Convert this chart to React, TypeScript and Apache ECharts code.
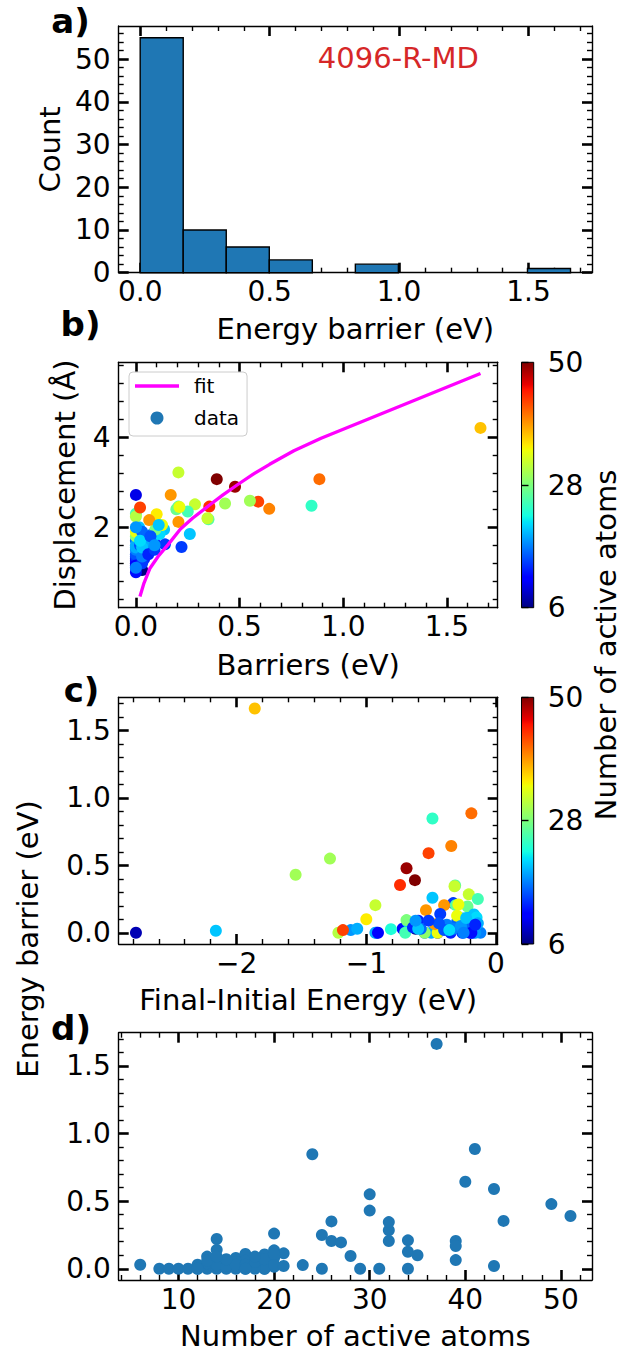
import { useEffect, useRef } from 'react';
import * as echarts from 'echarts';

const W = 633;
const H = 1351;
const FONT = '"DejaVu Sans", sans-serif';

// ---------- Panel a: histogram of energy barriers ----------
const histEdges = [0, 0.1662, 0.3324, 0.4986, 0.6648, 0.831, 0.9972, 1.1634, 1.3296, 1.4958, 1.662];
const histCounts = [55, 10, 6, 3, 0, 2, 0, 0, 0, 1];

// ---------- per-event data (panels b, c, d) ----------
const nAtoms = [
  37, 41, 24, 40, 43, 30, 49, 30, 51, 44, 26, 32, 20, 25, 14, 32, 26, 27, 34, 39, 39, 32,
  6, 8, 9, 10, 12, 12, 13, 13, 14, 14, 15, 15, 16, 16, 17, 17, 17, 18, 19, 19, 19, 20, 20, 20,
  21, 23, 25, 28, 29, 31, 34, 34, 35, 39, 43,
  19, 11, 13, 14, 15, 16, 16, 17, 18, 18, 19, 20, 20, 21, 12, 13, 15, 14, 17, 18,
];
const barriers = [
  1.662, 0.885, 0.847, 0.643, 0.59, 0.55, 0.478, 0.43, 0.39, 0.354, 0.35, 0.285, 0.26, 0.25, 0.22, 0.205, 0.205, 0.195, 0.21, 0.205, 0.168, 0.345,
  0.03, 0.0, 0.0, 0.0, 0.03, 0.0, 0.09, 0.0, 0.14, 0.0, 0.045, 0.0, 0.08, 0.0, 0.11, 0.06, 0.0, 0.02, 0.106, 0.03, 0.0, 0.136, 0.08, 0.015,
  0.114, 0.027, 0.0, 0.094, 0.0, 0.0, 0.126, 0.0, 0.1, 0.064, 0.02,
  0.0, 0.0, 0.04, 0.03, 0.02, 0.05, 0.03, 0.03, 0.0, 0.05, 0.07, 0.03, 0.11, 0.02, 0.0, 0.06, 0.07, 0.09, 0.0, 0.09,
];
const displacements = [
  4.21, 3.07, 2.48, 2.41, 2.57, 2.59, 2.9, 2.53, 3.07, 2.46, 2.18, 2.51, 1.85, 2.35, 1.56, 3.22, 2.46, 2.4, 2.45, 2.12, 2.72, 2.2,
  1.05, 1.2, 1.3, 2.72, 1.45, 1.25, 1.65, 1.1, 1.62, 1.35, 1.55, 1.4, 1.85, 1.7, 2.0, 1.75, 1.5, 1.9, 2.05, 1.8, 1.6, 1.95, 1.75, 2.0,
  1.85, 1.85, 2.3, 1.95, 1.8, 2.24, 2.05, 1.9, 2.29, 2.16, 2.44,
  1.55, 1.15, 1.3, 1.2, 1.6, 1.45, 1.9, 1.35, 2.0, 1.65, 1.7, 1.55, 2.05, 1.7, 1.0, 1.4, 1.8, 1.5, 1.1, 1.6,
];
const deltaE = [
  -1.86, -0.19, -0.49, -0.345, -0.52, -1.28, -0.69, -1.545, -0.625, -0.74, -0.315, -0.21, -0.49, -0.14, -0.33, -0.93, -0.31, -0.22, -0.29, -0.4, -0.54, -0.32,
  -0.62, -2.776, -0.45, -0.2, -0.72, -0.92, -0.6, -0.35, -0.43, -0.26, -0.66, -0.18, -0.3, -0.55, -0.21, -0.38, -0.12, -1.12, -0.26, -1.07, -0.5, -0.17, -0.68, -2.16,
  -0.15, -0.81, -0.7, -0.69, -0.55, -1.215, -0.3, -0.45, -1.0, -0.47, -1.18,
  -0.93, -0.91, -0.64, -0.28, -0.4, -0.24, -0.58, -0.33, -0.16, -0.27, -0.14, -0.6, -0.23, -0.36, -0.19, -0.16, -0.44, -0.52, -0.25, -0.62,
];

// power-law fit drawn in panel b
const fitBarrier = [0.0195, 0.039, 0.068, 0.107, 0.156, 0.215, 0.273, 0.357, 0.42, 0.488, 0.566, 0.645, 0.762, 0.893, 1.662];
const fitDisp = [0.46, 0.76, 1.09, 1.35, 1.62, 1.96, 2.2, 2.5, 2.72, 2.94, 3.18, 3.4, 3.7, 3.98, 5.42];

// ---------- axis ranges & tick labels ----------
const aXRange = [-0.083, 1.745];
const aYRange = [0, 57.75];
const bXRange = [-0.083, 1.745];
const bYRange = [0.212, 5.668];
const cXRange = [-2.909, 0.013];
const cYRange = [-0.083, 1.745];
const dXRange = [3.75, 53.25];
const dYRange = [-0.083, 1.745];

const aXTicks = [0, 0.5, 1.0, 1.5];
const aYTicks = [0, 10, 20, 30, 40, 50];
const bXTicks = [0, 0.5, 1.0, 1.5];
const bYTicks = [2, 4];
const cXTicks = [-2, -1, 0];
const cYTicks = [0, 0.5, 1.0, 1.5];
const dXTicks = [10, 20, 30, 40, 50];
const dYTicks = [0, 0.5, 1.0, 1.5];
const cbTicks = [6, 28, 50];
const cbRange = [6, 50];

// ---------- layout ----------
const gridRects = [
  { left: 118.7, top: 26, width: 473.3, height: 246.7 },
  { left: 118.7, top: 362.3, width: 379, height: 245.4 },
  { left: 118.7, top: 697.3, width: 379, height: 246.7 },
  { left: 118.7, top: 1032.7, width: 473.3, height: 247.3 },
];
const cbRects = [
  { left: 521.5, top: 362.3, width: 12.2, height: 245.4 },
  { left: 521.5, top: 697.3, width: 12.2, height: 246.7 },
];

function interp(t: number, xs: number[], ys: number[]) {
  if (t <= xs[0]) return ys[0];
  for (let i = 1; i < xs.length; i++) {
    if (t <= xs[i]) {
      const f = (t - xs[i - 1]) / (xs[i] - xs[i - 1]);
      return ys[i - 1] + f * (ys[i] - ys[i - 1]);
    }
  }
  return ys[ys.length - 1];
}
function jet(t: number) {
  const r = interp(t, [0, 0.35, 0.66, 0.89, 1], [0, 0, 1, 1, 0.5]);
  const g = interp(t, [0, 0.125, 0.375, 0.64, 0.91, 1], [0, 0, 1, 1, 0, 0]);
  const b = interp(t, [0, 0.11, 0.34, 0.65, 1], [0.5, 1, 1, 0, 0]);
  return `rgb(${Math.round(r * 255)},${Math.round(g * 255)},${Math.round(b * 255)})`;
}
const jetKnots = [0, 0.11, 0.125, 0.34, 0.35, 0.375, 0.64, 0.65, 0.66, 0.89, 0.91, 1];

function minorTicks(range: number[], step: number, majors: number[]) {
  const out: number[] = [];
  const k0 = Math.ceil(range[0] / step - 1e-9);
  const k1 = Math.floor(range[1] / step + 1e-9);
  for (let k = k0; k <= k1; k++) {
    const v = Math.round(k * step * 1e6) / 1e6;
    if (!majors.some((m) => Math.abs(m - v) < 1e-6)) out.push(v);
  }
  return out;
}

const f0 = (v: number) => String(Math.round(v));
const f1 = (v: number) => v.toFixed(1);
const fMinus = (v: number) => (v < 0 ? '\u2212' + String(Math.abs(v)) : String(v));

const axisText = { color: '#000', fontSize: 28, fontFamily: FONT };
const nameText = { color: '#000', fontSize: 29, fontFamily: FONT };

function makeAxes(
  gi: number,
  dim: 'x' | 'y',
  range: number[],
  majors: number[],
  minorStep: number,
  fmt: (v: number) => string,
  name: string | null,
  nameGap: number,
) {
  const minors = minorTicks(range, minorStep, majors);
  const main = dim === 'x' ? 'bottom' : 'left';
  const mirror = dim === 'x' ? 'top' : 'right';
  const base = (pos: string, vals: number[], major: boolean, line: boolean, labels: boolean) => ({
    type: 'value',
    gridIndex: gi,
    position: pos,
    min: range[0],
    max: range[1],
    silent: true,
    axisLine: { show: line, onZero: false, lineStyle: { color: '#000', width: 1.4 } },
    axisTick: {
      show: true,
      inside: true,
      length: major ? 10 : 5,
      lineStyle: { color: '#000', width: major ? 2.6 : 1.4 },
      customValues: vals,
    },
    axisLabel: {
      show: labels,
      customValues: vals,
      formatter: fmt,
      margin: dim === 'x' ? 5 : 8,
      ...axisText,
    },
    splitLine: { show: false },
    minorTick: { show: false },
    minorSplitLine: { show: false },
    axisPointer: { show: false },
  });
  const a: any = base(main, majors, true, true, true);
  if (name) {
    a.name = name;
    a.nameLocation = 'middle';
    a.nameGap = nameGap;
    a.nameTextStyle = nameText;
  }
  return [a, base(main, minors, false, false, false), base(mirror, majors, true, true, false), base(mirror, minors, false, false, false)];
}

function buildOption() {
  const xAxis: any[] = [];
  const yAxis: any[] = [];
  xAxis.push(...makeAxes(0, 'x', aXRange, aXTicks, 0.1, f1, 'Energy barrier (eV)', 42));
  yAxis.push(...makeAxes(0, 'y', aYRange, aYTicks, 2, f0, 'Count', 51));
  xAxis.push(...makeAxes(1, 'x', bXRange, bXTicks, 0.1, f1, 'Barriers (eV)', 43));
  yAxis.push(...makeAxes(1, 'y', bYRange, bYTicks, 0.4, f0, 'Displacement (\u00C5)', 39));
  xAxis.push(...makeAxes(2, 'x', cXRange, cXTicks, 0.2, fMinus, 'Final-Initial Energy (eV)', 41));
  yAxis.push(...makeAxes(2, 'y', cYRange, cYTicks, 0.1, f1, null, 0));
  xAxis.push(...makeAxes(3, 'x', dXRange, dXTicks, 2, f0, 'Number of active atoms', 41));
  yAxis.push(...makeAxes(3, 'y', dYRange, dYTicks, 0.1, f1, null, 0));

  // colorbar axes
  [4, 5].forEach((gi) => {
    xAxis.push({ type: 'value', gridIndex: gi, min: 0, max: 1, show: false });
    yAxis.push({
      type: 'value',
      gridIndex: gi,
      position: 'right',
      min: cbRange[0],
      max: cbRange[1],
      silent: true,
      axisLine: { show: false },
      axisTick: { show: true, inside: false, length: 7, lineStyle: { color: '#000', width: 1.4 }, customValues: cbTicks },
      axisLabel: { show: true, customValues: cbTicks, margin: 14, formatter: f0, ...axisText },
      splitLine: { show: false },
    });
  });

  const gradient = new echarts.graphic.LinearGradient(
    0, 1, 0, 0,
    jetKnots.map((t) => ({ offset: t, color: jet(t) })),
  );

  const grid = [
    ...gridRects.map((r) => ({ ...r, show: false, containLabel: false })),
    ...cbRects.map((r) => ({ ...r, show: true, containLabel: false, backgroundColor: gradient, borderColor: '#000', borderWidth: 1 })),
  ];

  const vmColors: string[] = [];
  for (let i = 0; i <= 100; i++) vmColors.push(jet(i / 100));

  const histData = histCounts
    .map((c, i) => [histEdges[i], histEdges[i + 1], c])
    .filter((d) => d[2] > 0);

  const scatterB = barriers.map((b, i) => [b, displacements[i], nAtoms[i]]);
  const scatterC = barriers.map((b, i) => [deltaE[i], b, nAtoms[i]]);
  const scatterD = barriers.map((b, i) => [nAtoms[i], b]);
  const fitData = fitBarrier.map((x, i) => [x, fitDisp[i]]);

  const labelFont = `bold 34px ${FONT}`;
  const txt = (text: string, x: number, y: number, font: string, fill = '#000', rotation = 0) => ({
    type: 'text',
    x,
    y,
    rotation,
    silent: true,
    style: {
      text,
      font,
      fill,
      align: 'center',
      verticalAlign: 'middle',
      textAlign: 'center',
      textVerticalAlign: 'middle',
    },
  });

  return {
    animation: false,
    backgroundColor: '#fff',
    grid,
    xAxis,
    yAxis,
    visualMap: {
      type: 'continuous',
      show: false,
      min: cbRange[0],
      max: cbRange[1],
      dimension: 2,
      seriesIndex: [1, 3],
      inRange: { color: vmColors },
    },
    legend: {
      show: true,
      orient: 'vertical',
      left: 129,
      top: 372,
      selectedMode: false,
      data: [
        { name: 'fit', icon: 'path://M0 0H44V3.3H0Z', itemStyle: { color: '#ff00ff', borderWidth: 0 } },
        { name: 'data', icon: 'circle', itemStyle: { color: '#1f77b4', borderWidth: 0 } },
      ],
      itemWidth: 44,
      itemHeight: 13,
      itemGap: 12,
      padding: [4, 8, 8, 6],
      textStyle: { fontSize: 20, fontFamily: FONT, color: '#000', padding: [0, 0, 0, 10] },
      borderColor: '#cccccc',
      borderWidth: 1,
      borderRadius: 4,
      backgroundColor: 'rgba(255,255,255,0.8)',
    },
    series: [
      {
        type: 'custom',
        name: 'hist',
        xAxisIndex: 0,
        yAxisIndex: 0,
        encode: { x: [0, 1], y: 2 },
        data: histData,
        renderItem: (_p: any, api: any) => {
          const p0 = api.coord([api.value(0), api.value(2)]);
          const p1 = api.coord([api.value(1), 0]);
          return {
            type: 'rect',
            shape: { x: p0[0], y: p0[1], width: p1[0] - p0[0], height: p1[1] - p0[1] },
            style: { fill: '#1f77b4', stroke: '#000', lineWidth: 1.4 },
          };
        },
      },
      {
        type: 'scatter',
        name: 'data',
        xAxisIndex: 4,
        yAxisIndex: 4,
        symbol: 'circle',
        symbolSize: 12,
        itemStyle: { color: '#1f77b4', opacity: 1 },
        z: 2,
        data: scatterB,
      },
      {
        type: 'line',
        name: 'fit',
        xAxisIndex: 4,
        yAxisIndex: 4,
        symbol: 'none',
        showSymbol: false,
        lineStyle: { color: '#ff00ff', width: 3.3 },
        itemStyle: { color: '#ff00ff' },
        z: 3,
        data: fitData,
      },
      {
        type: 'scatter',
        name: 'dE',
        xAxisIndex: 8,
        yAxisIndex: 8,
        symbol: 'circle',
        symbolSize: 12,
        itemStyle: { opacity: 1 },
        data: scatterC,
      },
      {
        type: 'scatter',
        name: 'nat',
        xAxisIndex: 12,
        yAxisIndex: 12,
        symbol: 'circle',
        symbolSize: 12,
        itemStyle: { color: '#1f77b4', opacity: 1 },
        data: scatterD,
      },
    ],
    graphic: [
      txt('a)', 70.5, 21, labelFont),
      txt('b)', 80.5, 324, labelFont),
      txt('c)', 81.5, 690, labelFont),
      txt('d)', 71, 1028, labelFont),
      txt('4096-R-MD', 398.4, 58.3, `29px ${FONT}`, '#d62728'),
      txt('Energy barrier (eV)', 28, 939, `29px ${FONT}`, '#000', Math.PI / 2),
      txt('Number of active atoms', 606, 645, `29px ${FONT}`, '#000', Math.PI / 2),
    ],
  };
}

export default function App() {
  const ref = useRef<HTMLDivElement>(null);
  useEffect(() => {
    const chart = echarts.init(ref.current!, null, { renderer: 'svg' });
    chart.setOption(buildOption() as any);
    return () => chart.dispose();
  }, []);
  return <div ref={ref} style={{ position: 'absolute', left: 0, top: 0, width: W, height: H }} />;
}
